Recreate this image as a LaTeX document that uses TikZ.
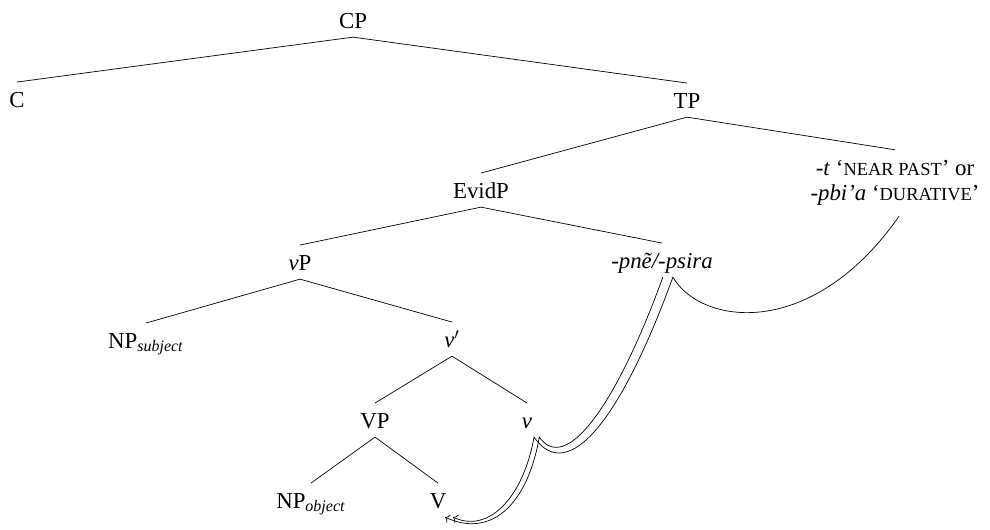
\documentclass[tikz,border=0pt]{standalone}
\usepackage{fontspec}
\setmainfont{Liberation Serif}
\usetikzlibrary{arrows.meta, positioning}
\newcommand{\smcap}[1]{{\fontsize{10.5}{12}\selectfont #1}}

\begin{document}
\begin{tikzpicture}[x=0.02cm, y=0.02cm,
    every node/.style={font=\fontsize{13}{15.6}\selectfont},
    lbl/.style={anchor=base, inner sep=3pt, text height=11pt, text depth=2pt}]
    \useasboundingbox (0,0) rectangle (990,529);

    % Nodos del arbol
    \node[lbl] (cp) at (353,501) {CP};
    \node[lbl] (c) at (17,422) {C};
    \node[lbl] (tp) at (687,421) {TP};
    \node[lbl] (evidp) at (481,331) {EvidP};
    \node[align=center, inner xsep=2pt, inner ysep=6pt, font=\fontsize{13}{14}\selectfont] (tense) at (895,346)
        {\textit{-t} `\smcap{NEAR PAST}' or\\\textit{-pbi'a} `\smcap{DURATIVE}'};
    \node[lbl] (littlevp) at (300,259) {\textit{v}P};
    \node[lbl] (evid) at (662,261) {\textit{-pnẽ/-psira}};
    \node[lbl] (npsubj) at (146,181) {NP\textsubscript{\textit{subject}}};
    \node[lbl] (vbar) at (452,182) {\textit{v}$'$};
    \node[lbl] (bigvp) at (375,101) {VP};
    \node[lbl] (littlev) at (527,101) {\textit{v}};
    \node[lbl] (npobj) at (311,21) {NP\textsubscript{\textit{object}}};
    \node[lbl] (bigv) at (438,21) {V};

    % Ramas
    \draw (cp.south) -- (c.north);
    \draw (cp.south) -- (tp.north);
    \draw (tp.south) -- (evidp.north);
    \draw (tp.south) -- (tense.north);
    \draw (evidp.south) -- (littlevp.north);
    \draw (evidp.south) -- (evid.north);
    \draw (littlevp.south) -- (npsubj.north);
    \draw (littlevp.south) -- (vbar.north);
    \draw (vbar.south) -- (bigvp.north);
    \draw (vbar.south) -- (littlev.north);
    \draw (bigvp.south) -- (npobj.north);
    \draw (bigvp.south) -- (bigv.north);

    % Movimiento
    \draw[->] ([xshift=2.3pt]tense.south) .. controls +(-125:153) and +(-60:55) .. ([xshift=6.2pt]evid.south)
        .. controls +(-110:150) and +(-55:60) .. ([xshift=4pt]littlev.south)
        .. controls +(-100:60) and +(-25:40) .. ([xshift=8.5pt]bigv.south);
    \draw[->] ([xshift=0.5pt]evid.south)
        .. controls +(-110:140) and +(-55:45) .. ([xshift=7pt]littlev.south)
        .. controls +(-100:70) and +(-25:50) .. ([xshift=4pt]bigv.south);
\end{tikzpicture}
\end{document}
